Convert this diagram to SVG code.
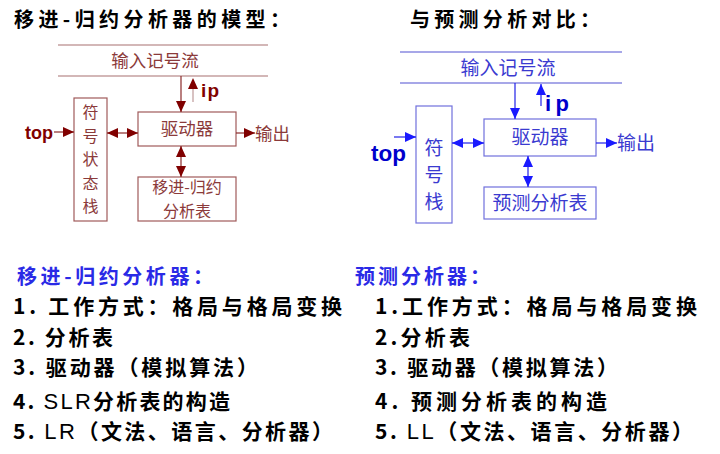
<svg xmlns="http://www.w3.org/2000/svg" width="720" height="454" viewBox="0 0 720 454">
<style>
text{font-family:"Noto Sans CJK SC","Noto Sans",sans-serif;}
.title{font-size:20px;font-weight:bold;fill:#000;}
.item{font-size:21px;font-weight:bold;fill:#000;}
.head{font-size:20px;font-weight:bold;fill:#2a2ae6;}
.lat{font-family:"Liberation Sans","Noto Sans CJK SC",sans-serif;font-weight:normal;font-size:22px;}
.rl{stroke:#a87070;stroke-width:1.2;fill:none;}
.rb{stroke:#a05a5a;stroke-width:1.2;fill:#fff;}
.rt{font-size:17.5px;fill:#8b3a3a;}
.rs{font-size:16px;fill:#8b3a3a;}
.bl{stroke:#8a8ae0;stroke-width:1.4;fill:none;}
.bb{stroke:#7070dd;stroke-width:1.2;fill:#fff;}
.bt{font-size:19px;fill:#3a3ad0;}
.ra{stroke:#8b2a2a;stroke-width:1.2;}
.ba{stroke:#2020e8;stroke-width:1.2;}
.rlab{font-family:"Liberation Sans",sans-serif;font-weight:bold;font-size:19px;fill:#800000;}
.blab{font-family:"Liberation Sans",sans-serif;font-weight:bold;font-size:22px;fill:#0000cc;}
</style>
<defs>
<marker id="rh" markerUnits="userSpaceOnUse" markerWidth="12" markerHeight="10" refX="11" refY="5" orient="auto-start-reverse"><path d="M0,0 L11,5 L0,10 Z" fill="#800000"/></marker>
<marker id="bh" markerUnits="userSpaceOnUse" markerWidth="12" markerHeight="10" refX="11" refY="5" orient="auto-start-reverse"><path d="M0,0 L11,5 L0,10 Z" fill="#1a1aff"/></marker>
</defs>

<text class="title" x="14" y="27" textLength="276" lengthAdjust="spacing">移进-归约分析器的模型：</text>
<text class="title" x="410" y="27" textLength="190" lengthAdjust="spacing">与预测分析对比：</text>

<!-- left diagram -->
<g id="l-input">
<line class="rl" x1="58" y1="45" x2="268" y2="45"/>
<line class="rl" x1="58" y1="76" x2="268" y2="76"/>
<text class="rt" x="155" y="67" text-anchor="middle">输入记号流</text>
</g>
<g id="l-stack">
<rect class="rb" x="74" y="98" width="33" height="123"/>
<text class="rs" x="90.5" y="118" text-anchor="middle">符</text>
<text class="rs" x="90.5" y="141.5" text-anchor="middle">号</text>
<text class="rs" x="90.5" y="165" text-anchor="middle">状</text>
<text class="rs" x="90.5" y="188.5" text-anchor="middle">态</text>
<text class="rs" x="90.5" y="212" text-anchor="middle">栈</text>
</g>
<g id="l-driver">
<rect class="rb" x="138" y="112" width="98" height="34"/>
<text class="rt" x="187" y="135" text-anchor="middle">驱动器</text>
</g>
<g id="l-table">
<rect class="rb" x="138" y="177" width="98" height="44"/>
<text class="rs" x="187" y="193" text-anchor="middle">移进-归约</text>
<text class="rs" x="187" y="216.5" text-anchor="middle">分析表</text>
</g>
<text class="rlab" x="25" y="139" textLength="28" lengthAdjust="spacingAndGlyphs">top</text>
<text class="rlab" x="201" y="97" textLength="18" lengthAdjust="spacing">ip</text>
<text class="rt" x="255" y="140">输出</text>

<!-- right diagram -->
<g id="r-input">
<line class="bl" x1="400" y1="52" x2="622" y2="52"/>
<line class="bl" x1="400" y1="83" x2="622" y2="83"/>
<text class="bt" x="508" y="75" text-anchor="middle">输入记号流</text>
</g>
<g id="r-stack">
<rect class="bb" x="416" y="106" width="36" height="117"/>
<text class="bt" x="434" y="155" text-anchor="middle">符</text>
<text class="bt" x="434" y="182" text-anchor="middle">号</text>
<text class="bt" x="434" y="209" text-anchor="middle">栈</text>
</g>
<g id="r-driver">
<rect class="bb" x="484" y="119" width="112" height="37"/>
<text class="bt" x="540" y="144" text-anchor="middle">驱动器</text>
</g>
<g id="r-table">
<rect class="bb" x="484" y="187" width="112" height="32"/>
<text class="bt" x="540" y="210" text-anchor="middle">预测分析表</text>
</g>
<text class="blab" x="371" y="161" textLength="35" lengthAdjust="spacingAndGlyphs">top</text>
<text class="blab" x="545" y="111" textLength="24" lengthAdjust="spacing">ip</text>
<text class="bt" x="617" y="150">输出</text>

<g id="connectors">
<line class="ra" x1="181" y1="76" x2="181" y2="112" marker-end="url(#rh)"/>
<line x1="193" y1="102" x2="193" y2="86" stroke="#c8a8a8" stroke-width="1.4"/>
<line class="ra" x1="193" y1="90" x2="193" y2="78" stroke-opacity="0" marker-end="url(#rh)"/>
<line class="ra" x1="54" y1="132" x2="74" y2="132" marker-end="url(#rh)"/>
<line class="ra" x1="107" y1="133" x2="138" y2="133" marker-start="url(#rh)" marker-end="url(#rh)"/>
<line class="ra" x1="236" y1="133" x2="255" y2="133" marker-end="url(#rh)"/>
<line class="ra" x1="181" y1="146" x2="181" y2="177" marker-start="url(#rh)" marker-end="url(#rh)"/>

<line class="ba" x1="515" y1="83" x2="515" y2="119" marker-end="url(#bh)"/>
<line class="ba" x1="541" y1="106" x2="541" y2="84" marker-end="url(#bh)"/>
<line class="ba" x1="394" y1="137" x2="416" y2="137" marker-end="url(#bh)"/>
<line class="ba" x1="452" y1="143" x2="484" y2="143" marker-start="url(#bh)" marker-end="url(#bh)"/>
<line class="ba" x1="596" y1="143" x2="617" y2="143" marker-end="url(#bh)"/>
<line class="ba" x1="528" y1="156" x2="528" y2="187" marker-start="url(#bh)" marker-end="url(#bh)"/>
</g>

<!-- bottom lists -->
<text class="head" x="17" y="284" textLength="196" lengthAdjust="spacing">移进-归约分析器：</text>
<text class="head" x="355" y="284" textLength="135" lengthAdjust="spacing">预测分析器：</text>

<text class="item" x="13" y="314" textLength="329" lengthAdjust="spacing">1. 工作方式：格局与格局变换</text>
<text class="item" x="13" y="345" textLength="100" lengthAdjust="spacing">2. 分析表</text>
<text class="item" x="13" y="375" textLength="245" lengthAdjust="spacing">3. 驱动器（模拟算法）</text>
<text class="item" x="13" y="409" textLength="217" lengthAdjust="spacing">4. <tspan class="lat">SLR</tspan>分析表的构造</text>
<text class="item" x="13" y="439" textLength="320" lengthAdjust="spacing">5. <tspan class="lat">LR</tspan>（文法、语言、分析器）</text>

<text class="item" x="375" y="314" textLength="322" lengthAdjust="spacing">1.工作方式：格局与格局变换</text>
<text class="item" x="375" y="345" textLength="95" lengthAdjust="spacing">2.分析表</text>
<text class="item" x="375" y="375" textLength="243" lengthAdjust="spacing">3. 驱动器（模拟算法）</text>
<text class="item" x="375" y="409" textLength="232" lengthAdjust="spacing">4. 预测分析表的构造</text>
<text class="item" x="375" y="439" textLength="318" lengthAdjust="spacing">5. <tspan class="lat">LL</tspan>（文法、语言、分析器）</text>
</svg>
